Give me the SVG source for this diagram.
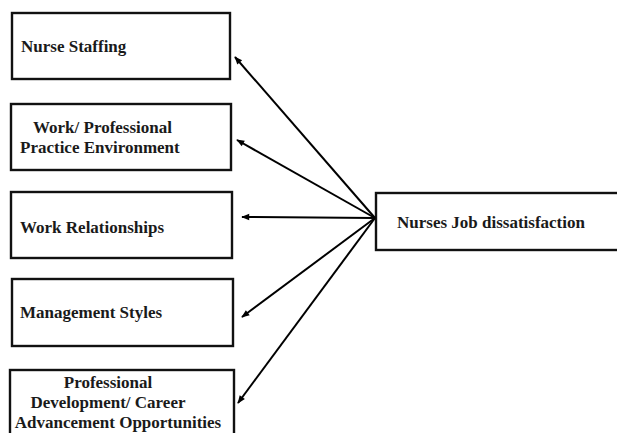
<svg xmlns="http://www.w3.org/2000/svg" width="617" height="433" viewBox="0 0 617 433">
<defs>
<marker id="ah" viewBox="0 0 10 10" refX="9" refY="5" markerWidth="9" markerHeight="8" markerUnits="userSpaceOnUse" orient="auto">
<path d="M0,1 L10,5 L0,9 Z" fill="#000"/>
</marker>
</defs>
<style>
.box{fill:#fff;stroke:#111;stroke-width:2.4}
.t{font-family:"Liberation Serif","Times New Roman",serif;font-weight:bold;font-size:17px;fill:#1a1a1a}
.c{stroke:#000;stroke-width:2;fill:none;marker-end:url(#ah)}
</style>
<rect width="617" height="433" fill="#fff"/>
<g id="n1"><rect class="box" x="12" y="13" width="218" height="66"/><text class="t" x="21" y="52">Nurse Staffing</text></g>
<g id="n2"><rect class="box" x="11" y="104" width="220" height="66"/><text class="t" x="33" y="133">Work/ Professional</text><text class="t" x="20" y="153">Practice Environment</text></g>
<g id="n3"><rect class="box" x="11" y="192" width="221" height="66"/><text class="t" x="20" y="233">Work Relationships</text></g>
<g id="n4"><rect class="box" x="12" y="279" width="221" height="67"/><text class="t" x="20" y="318">Management Styles</text></g>
<g id="n5"><rect class="box" x="10" y="370" width="224" height="70"/><text class="t" x="108" y="388" text-anchor="middle">Professional</text><text class="t" x="108" y="408" text-anchor="middle">Development/ Career</text><text class="t" x="118" y="428" text-anchor="middle">Advancement Opportunities</text></g>
<g id="n6"><rect class="box" x="376" y="193" width="250" height="57"/><text class="t" x="397" y="228">Nurses Job dissatisfaction</text></g>
<g id="connectors">
<line class="c" x1="375" y1="218" x2="235" y2="57"/>
<line class="c" x1="375" y1="218" x2="237" y2="140"/>
<line class="c" x1="375" y1="218" x2="242" y2="217"/>
<line class="c" x1="375" y1="218" x2="242" y2="317"/>
<line class="c" x1="375" y1="218" x2="238" y2="403"/>
</g>
</svg>
